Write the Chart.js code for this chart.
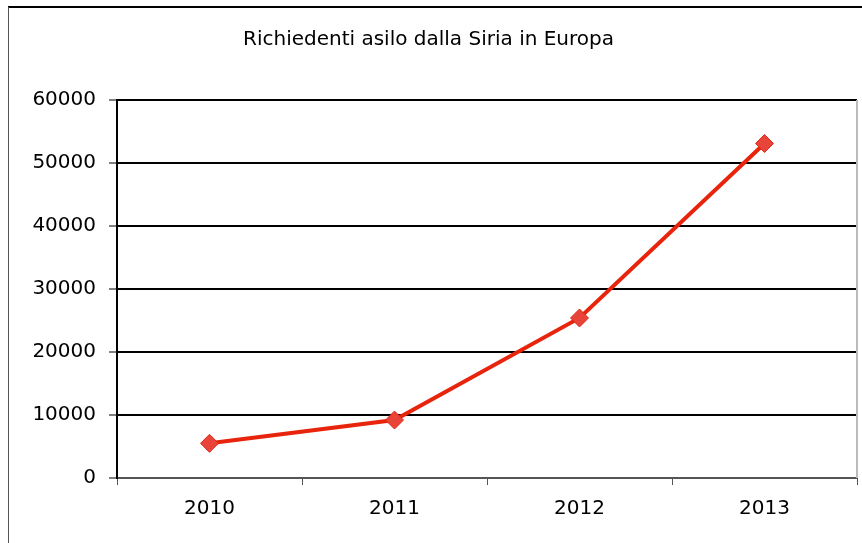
<!DOCTYPE html>
<html>
<head>
<meta charset="utf-8">
<script src="https://cdn.jsdelivr.net/npm/chart.js@4.4.0/dist/chart.umd.min.js"></script>
<style>
  html, body { margin: 0; padding: 0; background: #fff; }
  #wrap { position: relative; width: 862px; height: 543px; }
</style>
</head>
<body>
<div id="wrap"><canvas id="grafico"></canvas></div>
<script>
// dati
var anni = ['2010', '2011', '2012', '2013'];
var richiedenti = [5500, 9200, 25400, 53100];
var titolo = 'Richiedenti asilo dalla Siria in Europa';

// cornice esterna + bordo destro dell'area del grafico
var cornice = {
    id: 'cornice',
    afterDraw: function (chart) {
        var ctx = chart.ctx, a = chart.chartArea;
        ctx.save();
        ctx.strokeStyle = '#000';
        ctx.lineWidth = 2;
        ctx.beginPath();
        ctx.moveTo(8, 7);
        ctx.lineTo(862, 7);
        ctx.stroke();
        ctx.strokeStyle = '#555';
        ctx.lineWidth = 1;
        ctx.beginPath();
        ctx.moveTo(8.5, 7);
        ctx.lineTo(8.5, 543);
        ctx.stroke();
        ctx.strokeStyle = '#bbb';
        ctx.lineWidth = 2;
        ctx.beginPath();
        ctx.moveTo(a.right, a.top);
        ctx.lineTo(a.right, a.bottom);
        ctx.stroke();
        ctx.restore();
    }
};

var ctx = document.getElementById('grafico').getContext('2d');
var grafico = new Chart(ctx, {
    type: 'line',
    data: {
        labels: anni,
        datasets: [{
            label: titolo,
            data: richiedenti,
            borderColor: '#e8250c',
            borderWidth: 4,
            backgroundColor: '#e8443a',
            pointStyle: 'rectRot',
            pointRadius: 9,
            pointBorderColor: '#dc2a18',
            pointBorderWidth: 1,
            tension: 0
        }]
    },
    options: {
        responsive: true,
        maintainAspectRatio: false,
        animation: false,
        layout: { autoPadding: false, padding: { left: 0, right: 5, top: 0, bottom: 0 } },
        plugins: {
            legend: { display: false },
            tooltip: { enabled: false },
            title: {
                display: true,
                text: titolo,
                color: '#000',
                font: { family: 'DejaVu Sans', size: 20, weight: 'normal' },
                padding: { top: 28, bottom: 48 }
            }
        },
        scales: {
            x: {
                offset: true,
                grid: {
                    offset: true,
                    drawOnChartArea: false,
                    tickLength: 7,
                    color: '#555',
                    lineWidth: 1
                },
                border: { color: '#555', width: 2 },
                ticks: {
                    color: '#000',
                    padding: 12,
                    font: { family: 'DejaVu Sans', size: 20 }
                },
                afterFit: function (s) { s.height = 65; }
            },
            y: {
                min: 0,
                max: 60000,
                ticks: {
                    stepSize: 10000,
                    color: '#000',
                    padding: 13,
                    font: { family: 'DejaVu Sans', size: 20 },
                    callback: function (v) { return String(v); }
                },
                grid: {
                    color: function (c) { return c.tick && c.tick.value === 0 ? '#555' : '#000'; },
                    lineWidth: 2,
                    tickLength: 8,
                    tickColor: '#000',
                    tickWidth: 1
                },
                border: { color: '#000', width: 2 },
                afterFit: function (s) { s.width = 117; }
            }
        }
    },
    plugins: [cornice]
});
</script>
</body>
</html>
